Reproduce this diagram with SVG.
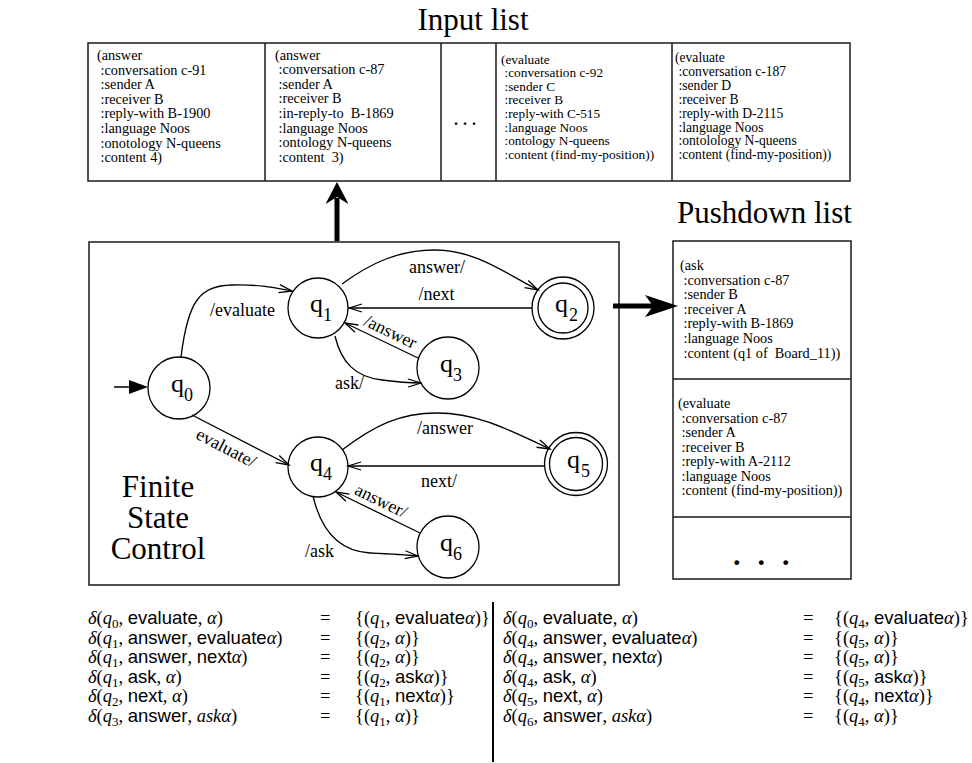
<svg xmlns="http://www.w3.org/2000/svg" width="972" height="763" viewBox="0 0 972 763">
  <style>
    text { font-family: "Liberation Serif", "Times New Roman", serif; fill: #000; }
    .box { fill: #fff; stroke: #1a1a1a; stroke-width: 1.5; }
    .div { stroke: #1a1a1a; stroke-width: 1.5; }
    .m14 { font-size: 14.3px; }
    .m13 { font-size: 13.3px; }
    .m13b { font-size: 13.6px; }
    .title { font-size: 31px; }
    .state { fill: none; stroke: #000; stroke-width: 1.3; }
    .q { font-size: 26px; }
    .qs { font-size: 18px; }
    .edge { fill: none; stroke: #000; stroke-width: 1.3; marker-end: url(#open); }
    .lbl { font-size: 18px; }
    .thick { stroke: #000; stroke-width: 5; }
    .eq { font-size: 18.5px; }
    .mi { font-style: italic; }
    .sf { font-family: "Liberation Sans", Arial, sans-serif; }
    .sb { font-size: 13px; }
  </style>
  <defs>
    <marker id="open" markerUnits="userSpaceOnUse" markerWidth="16" markerHeight="10" viewBox="0 0 16 10" refX="14" refY="5" orient="auto">
      <path d="M1,1 L14,5 L1,9" fill="none" stroke="#000" stroke-width="1.3"/>
    </marker>
  </defs>

  <!-- Input list -->
  <g id="input-list">
    <text class="title" x="473" y="30" text-anchor="middle" font-size="32">Input list</text>
    <rect class="box" x="88" y="43" width="762" height="138"/>
    <line class="div" x1="265" y1="43" x2="265" y2="181"/>
    <line class="div" x1="441" y1="43" x2="441" y2="181"/>
    <line class="div" x1="496" y1="43" x2="496" y2="181"/>
    <line class="div" x1="672" y1="43" x2="672" y2="181"/>
    <g class="m14">
      <text x="97" y="60">(answer</text>
      <text x="100.5" y="74.6">:conversation c-91</text>
      <text x="100.5" y="89.2">:sender A</text>
      <text x="100.5" y="103.8">:receiver B</text>
      <text x="100.5" y="118.4">:reply-with B-1900</text>
      <text x="100.5" y="133">:language Noos</text>
      <text x="100.5" y="147.6">:onotology N-queens</text>
      <text x="100.5" y="162.2">:content 4)</text>
    </g>
    <g class="m14">
      <text x="275" y="59.5">(answer</text>
      <text x="278.5" y="74.1">:conversation c-87</text>
      <text x="278.5" y="88.7">:sender A</text>
      <text x="278.5" y="103.3">:receiver B</text>
      <text x="278.5" y="117.9">:in-reply-to&#160; B-1869</text>
      <text x="278.5" y="132.5">:language Noos</text>
      <text x="278.5" y="147.1">:ontology N-queens</text>
      <text x="278.5" y="161.7">:content&#160; 3)</text>
    </g>
    <text x="454" y="125" font-size="16" font-weight="bold" letter-spacing="5">...</text>
    <g class="m13">
      <text x="501" y="63.5">(evaluate</text>
      <text x="504.5" y="77.1">:conversation c-92</text>
      <text x="504.5" y="90.7">:sender C</text>
      <text x="504.5" y="104.3">:receiver B</text>
      <text x="504.5" y="117.9">:reply-with C-515</text>
      <text x="504.5" y="131.5">:language Noos</text>
      <text x="504.5" y="145.1">:ontology N-queens</text>
      <text x="504.5" y="158.7">:content (find-my-position))</text>
    </g>
    <g class="m13b">
      <text x="675" y="62">(evaluate</text>
      <text x="678.5" y="75.9">:conversation c-187</text>
      <text x="678.5" y="89.8">:sender D</text>
      <text x="678.5" y="103.7">:receiver B</text>
      <text x="678.5" y="117.6">:reply-with D-2115</text>
      <text x="678.5" y="131.5">:language Noos</text>
      <text x="678.5" y="145.4">:ontolology N-queens</text>
      <text x="678.5" y="159.3">:content (find-my-position))</text>
    </g>
  </g>

  <!-- Pushdown list -->
  <g id="pushdown-list">
    <text class="title" x="677" y="223">Pushdown list</text>
    <rect class="box" x="673" y="241" width="178" height="338"/>
    <line class="div" x1="673" y1="379" x2="851" y2="379"/>
    <line class="div" x1="673" y1="517" x2="851" y2="517"/>
    <g class="m14">
      <text x="680" y="270">(ask</text>
      <text x="683.5" y="284.6">:conversation c-87</text>
      <text x="683.5" y="299.2">:sender B</text>
      <text x="683.5" y="313.8">:receiver A</text>
      <text x="683.5" y="328.4">:reply-with B-1869</text>
      <text x="683.5" y="343">:language Noos</text>
      <text x="683.5" y="357.6">:content (q1 of&#160; Board_11))</text>
    </g>
    <g class="m14">
      <text x="678" y="408">(evaluate</text>
      <text x="681.5" y="422.5">:conversation c-87</text>
      <text x="681.5" y="437">:sender A</text>
      <text x="681.5" y="451.5">:receiver B</text>
      <text x="681.5" y="466">:reply-with A-2112</text>
      <text x="681.5" y="480.5">:language Noos</text>
      <text x="681.5" y="495">:content (find-my-position))</text>
    </g>
    <text x="733" y="565" font-size="30" font-weight="bold" letter-spacing="17">...</text>
  </g>

  <!-- Finite state control -->
  <g id="fsc">
    <rect class="box" x="89" y="242" width="530" height="343"/>
    <text class="title" x="158" y="497" text-anchor="middle">Finite</text>
    <text class="title" x="158" y="528" text-anchor="middle">State</text>
    <text class="title" x="158" y="559" text-anchor="middle">Control</text>
  </g>

  <!-- States -->
  <g id="q0">
    <circle class="state" cx="179" cy="388" r="31"/>
    <text class="q" x="171" y="392">q<tspan class="qs" dy="9">0</tspan></text>
  </g>
  <g id="q1">
    <circle class="state" cx="318" cy="308" r="30"/>
    <text class="q" x="310" y="312">q<tspan class="qs" dy="9">1</tspan></text>
  </g>
  <g id="q2">
    <circle class="state" cx="563" cy="308" r="31"/>
    <circle class="state" cx="563" cy="308" r="25"/>
    <text class="q" x="555" y="312">q<tspan class="qs" dy="9" dx="1">2</tspan></text>
  </g>
  <g id="q3">
    <circle class="state" cx="448" cy="368" r="31"/>
    <text class="q" x="440" y="372">q<tspan class="qs" dy="9">3</tspan></text>
  </g>
  <g id="q4">
    <circle class="state" cx="318" cy="467" r="30"/>
    <text class="q" x="310" y="471">q<tspan class="qs" dy="9">4</tspan></text>
  </g>
  <g id="q5">
    <circle class="state" cx="576" cy="464" r="31.5"/>
    <circle class="state" cx="576" cy="464" r="26.5"/>
    <text class="q" x="567" y="468">q<tspan class="qs" dy="9" dx="1">5</tspan></text>
  </g>
  <g id="q6">
    <circle class="state" cx="448" cy="547" r="31"/>
    <text class="q" x="440" y="551">q<tspan class="qs" dy="9">6</tspan></text>
  </g>

  <!-- Connectors -->
  <g id="connectors">
    <!-- control sends to input list / pushes onto the stack -->
    <line class="thick" x1="337" y1="241" x2="337" y2="198"/>
    <path d="M337,182 L348.5,204 L337,197 L325.5,204 Z" fill="#000"/>
    <line class="thick" x1="613" y1="306" x2="660" y2="306"/>
    <path d="M678,306 L645,295 L653,306 L645,317 Z" fill="#000"/>

    <!-- start arrow -->
    <line x1="114" y1="387" x2="135" y2="387" stroke="#000" stroke-width="1.5"/>
    <path d="M148,387 L129,380 L129,394 Z" fill="#000"/>

    <path class="edge" d="M181,357 C188,300 200,286 232,285 C258,284 276,288 292,291"/>
    <text class="lbl" x="210" y="316">/evaluate</text>

    <path class="edge" d="M342,284 C372,262 400,250 435,250 C475,250 505,273 538,290"/>
    <text class="lbl" x="409" y="273">answer/</text>

    <path class="edge" d="M532,308 L349,308"/>
    <text class="lbl" x="418.5" y="300">/next</text>

    <path class="edge" d="M335,336 C341,362 355,377 382,380 C397,382 410,383 421,383"/>
    <text class="lbl" x="335" y="389">ask/</text>

    <path class="edge" d="M418,358 L345,323"/>
    <text class="lbl" text-anchor="middle" transform="translate(388,337) rotate(25.6)">/answer</text>

    <path class="edge" d="M192,415 L289,465"/>
    <text class="lbl" text-anchor="middle" transform="translate(223.5,453) rotate(27.3)">evaluate/</text>

    <path class="edge" d="M342,450 C375,425 400,413 437,413 C480,413 515,433 550,449"/>
    <text class="lbl" x="417" y="434">/answer</text>

    <path class="edge" d="M544,466 L348,466"/>
    <text class="lbl" x="421" y="487">next/</text>

    <path class="edge" d="M420,533 L336,492"/>
    <text class="lbl" text-anchor="middle" transform="translate(378.6,506) rotate(26)">answer/</text>

    <path class="edge" d="M313,496 C320,526 336,551 370,553 C392,554 408,555 418,556"/>
    <text class="lbl" x="305" y="557">/ask</text>
  </g>

  <!-- Transition function -->
  <g id="transitions" class="eq">
    <line x1="493" y1="602" x2="493" y2="762" stroke="#000" stroke-width="2"/>

    <text x="88" y="624"><tspan class="mi">δ</tspan>(<tspan class="mi">q</tspan><tspan class="sb" dy="4">0</tspan><tspan dy="-4">, </tspan><tspan class="sf">evaluate</tspan>, <tspan class="mi">α</tspan>)</text>
    <text x="320" y="624">=</text>
    <text x="355" y="624">{(<tspan class="mi">q</tspan><tspan class="sb" dy="4">1</tspan><tspan dy="-4">, </tspan><tspan class="sf">evaluate</tspan><tspan class="mi">α</tspan>)}</text>

    <text x="88" y="643.6"><tspan class="mi">δ</tspan>(<tspan class="mi">q</tspan><tspan class="sb" dy="4">1</tspan><tspan dy="-4">, </tspan><tspan class="sf">answer</tspan>, <tspan class="sf">evaluate</tspan><tspan class="mi">α</tspan>)</text>
    <text x="320" y="643.6">=</text>
    <text x="355" y="643.6">{(<tspan class="mi">q</tspan><tspan class="sb" dy="4">2</tspan><tspan dy="-4">, </tspan><tspan class="mi">α</tspan>)}</text>

    <text x="88" y="663.2"><tspan class="mi">δ</tspan>(<tspan class="mi">q</tspan><tspan class="sb" dy="4">1</tspan><tspan dy="-4">, </tspan><tspan class="sf">answer</tspan>, <tspan class="sf">next</tspan><tspan class="mi">α</tspan>)</text>
    <text x="320" y="663.2">=</text>
    <text x="355" y="663.2">{(<tspan class="mi">q</tspan><tspan class="sb" dy="4">2</tspan><tspan dy="-4">, </tspan><tspan class="mi">α</tspan>)}</text>

    <text x="88" y="682.8"><tspan class="mi">δ</tspan>(<tspan class="mi">q</tspan><tspan class="sb" dy="4">1</tspan><tspan dy="-4">, </tspan><tspan class="sf">ask</tspan>, <tspan class="mi">α</tspan>)</text>
    <text x="320" y="682.8">=</text>
    <text x="355" y="682.8">{(<tspan class="mi">q</tspan><tspan class="sb" dy="4">2</tspan><tspan dy="-4">, </tspan><tspan class="sf">ask</tspan><tspan class="mi">α</tspan>)}</text>

    <text x="88" y="702.4"><tspan class="mi">δ</tspan>(<tspan class="mi">q</tspan><tspan class="sb" dy="4">2</tspan><tspan dy="-4">, </tspan><tspan class="sf">next</tspan>, <tspan class="mi">α</tspan>)</text>
    <text x="320" y="702.4">=</text>
    <text x="355" y="702.4">{(<tspan class="mi">q</tspan><tspan class="sb" dy="4">1</tspan><tspan dy="-4">, </tspan><tspan class="sf">next</tspan><tspan class="mi">α</tspan>)}</text>

    <text x="88" y="722"><tspan class="mi">δ</tspan>(<tspan class="mi">q</tspan><tspan class="sb" dy="4">3</tspan><tspan dy="-4">, </tspan><tspan class="sf">answer</tspan>, <tspan class="mi">askα</tspan>)</text>
    <text x="320" y="722">=</text>
    <text x="355" y="722">{(<tspan class="mi">q</tspan><tspan class="sb" dy="4">1</tspan><tspan dy="-4">, </tspan><tspan class="mi">α</tspan>)}</text>

    <text x="503" y="624"><tspan class="mi">δ</tspan>(<tspan class="mi">q</tspan><tspan class="sb" dy="4">0</tspan><tspan dy="-4">, </tspan><tspan class="sf">evaluate</tspan>, <tspan class="mi">α</tspan>)</text>
    <text x="803" y="624">=</text>
    <text x="834" y="624">{(<tspan class="mi">q</tspan><tspan class="sb" dy="4">4</tspan><tspan dy="-4">, </tspan><tspan class="sf">evaluate</tspan><tspan class="mi">α</tspan>)}</text>

    <text x="503" y="643.6"><tspan class="mi">δ</tspan>(<tspan class="mi">q</tspan><tspan class="sb" dy="4">4</tspan><tspan dy="-4">, </tspan><tspan class="sf">answer</tspan>, <tspan class="sf">evaluate</tspan><tspan class="mi">α</tspan>)</text>
    <text x="803" y="643.6">=</text>
    <text x="834" y="643.6">{(<tspan class="mi">q</tspan><tspan class="sb" dy="4">5</tspan><tspan dy="-4">, </tspan><tspan class="mi">α</tspan>)}</text>

    <text x="503" y="663.2"><tspan class="mi">δ</tspan>(<tspan class="mi">q</tspan><tspan class="sb" dy="4">4</tspan><tspan dy="-4">, </tspan><tspan class="sf">answer</tspan>, <tspan class="sf">next</tspan><tspan class="mi">α</tspan>)</text>
    <text x="803" y="663.2">=</text>
    <text x="834" y="663.2">{(<tspan class="mi">q</tspan><tspan class="sb" dy="4">5</tspan><tspan dy="-4">, </tspan><tspan class="mi">α</tspan>)}</text>

    <text x="503" y="682.8"><tspan class="mi">δ</tspan>(<tspan class="mi">q</tspan><tspan class="sb" dy="4">4</tspan><tspan dy="-4">, </tspan><tspan class="sf">ask</tspan>, <tspan class="mi">α</tspan>)</text>
    <text x="803" y="682.8">=</text>
    <text x="834" y="682.8">{(<tspan class="mi">q</tspan><tspan class="sb" dy="4">5</tspan><tspan dy="-4">, </tspan><tspan class="sf">ask</tspan><tspan class="mi">α</tspan>)}</text>

    <text x="503" y="702.4"><tspan class="mi">δ</tspan>(<tspan class="mi">q</tspan><tspan class="sb" dy="4">5</tspan><tspan dy="-4">, </tspan><tspan class="sf">next</tspan>, <tspan class="mi">α</tspan>)</text>
    <text x="803" y="702.4">=</text>
    <text x="834" y="702.4">{(<tspan class="mi">q</tspan><tspan class="sb" dy="4">4</tspan><tspan dy="-4">, </tspan><tspan class="sf">next</tspan><tspan class="mi">α</tspan>)}</text>

    <text x="503" y="722"><tspan class="mi">δ</tspan>(<tspan class="mi">q</tspan><tspan class="sb" dy="4">6</tspan><tspan dy="-4">, </tspan><tspan class="sf">answer</tspan>, <tspan class="mi">askα</tspan>)</text>
    <text x="803" y="722">=</text>
    <text x="834" y="722">{(<tspan class="mi">q</tspan><tspan class="sb" dy="4">4</tspan><tspan dy="-4">, </tspan><tspan class="mi">α</tspan>)}</text>
  </g>
</svg>
